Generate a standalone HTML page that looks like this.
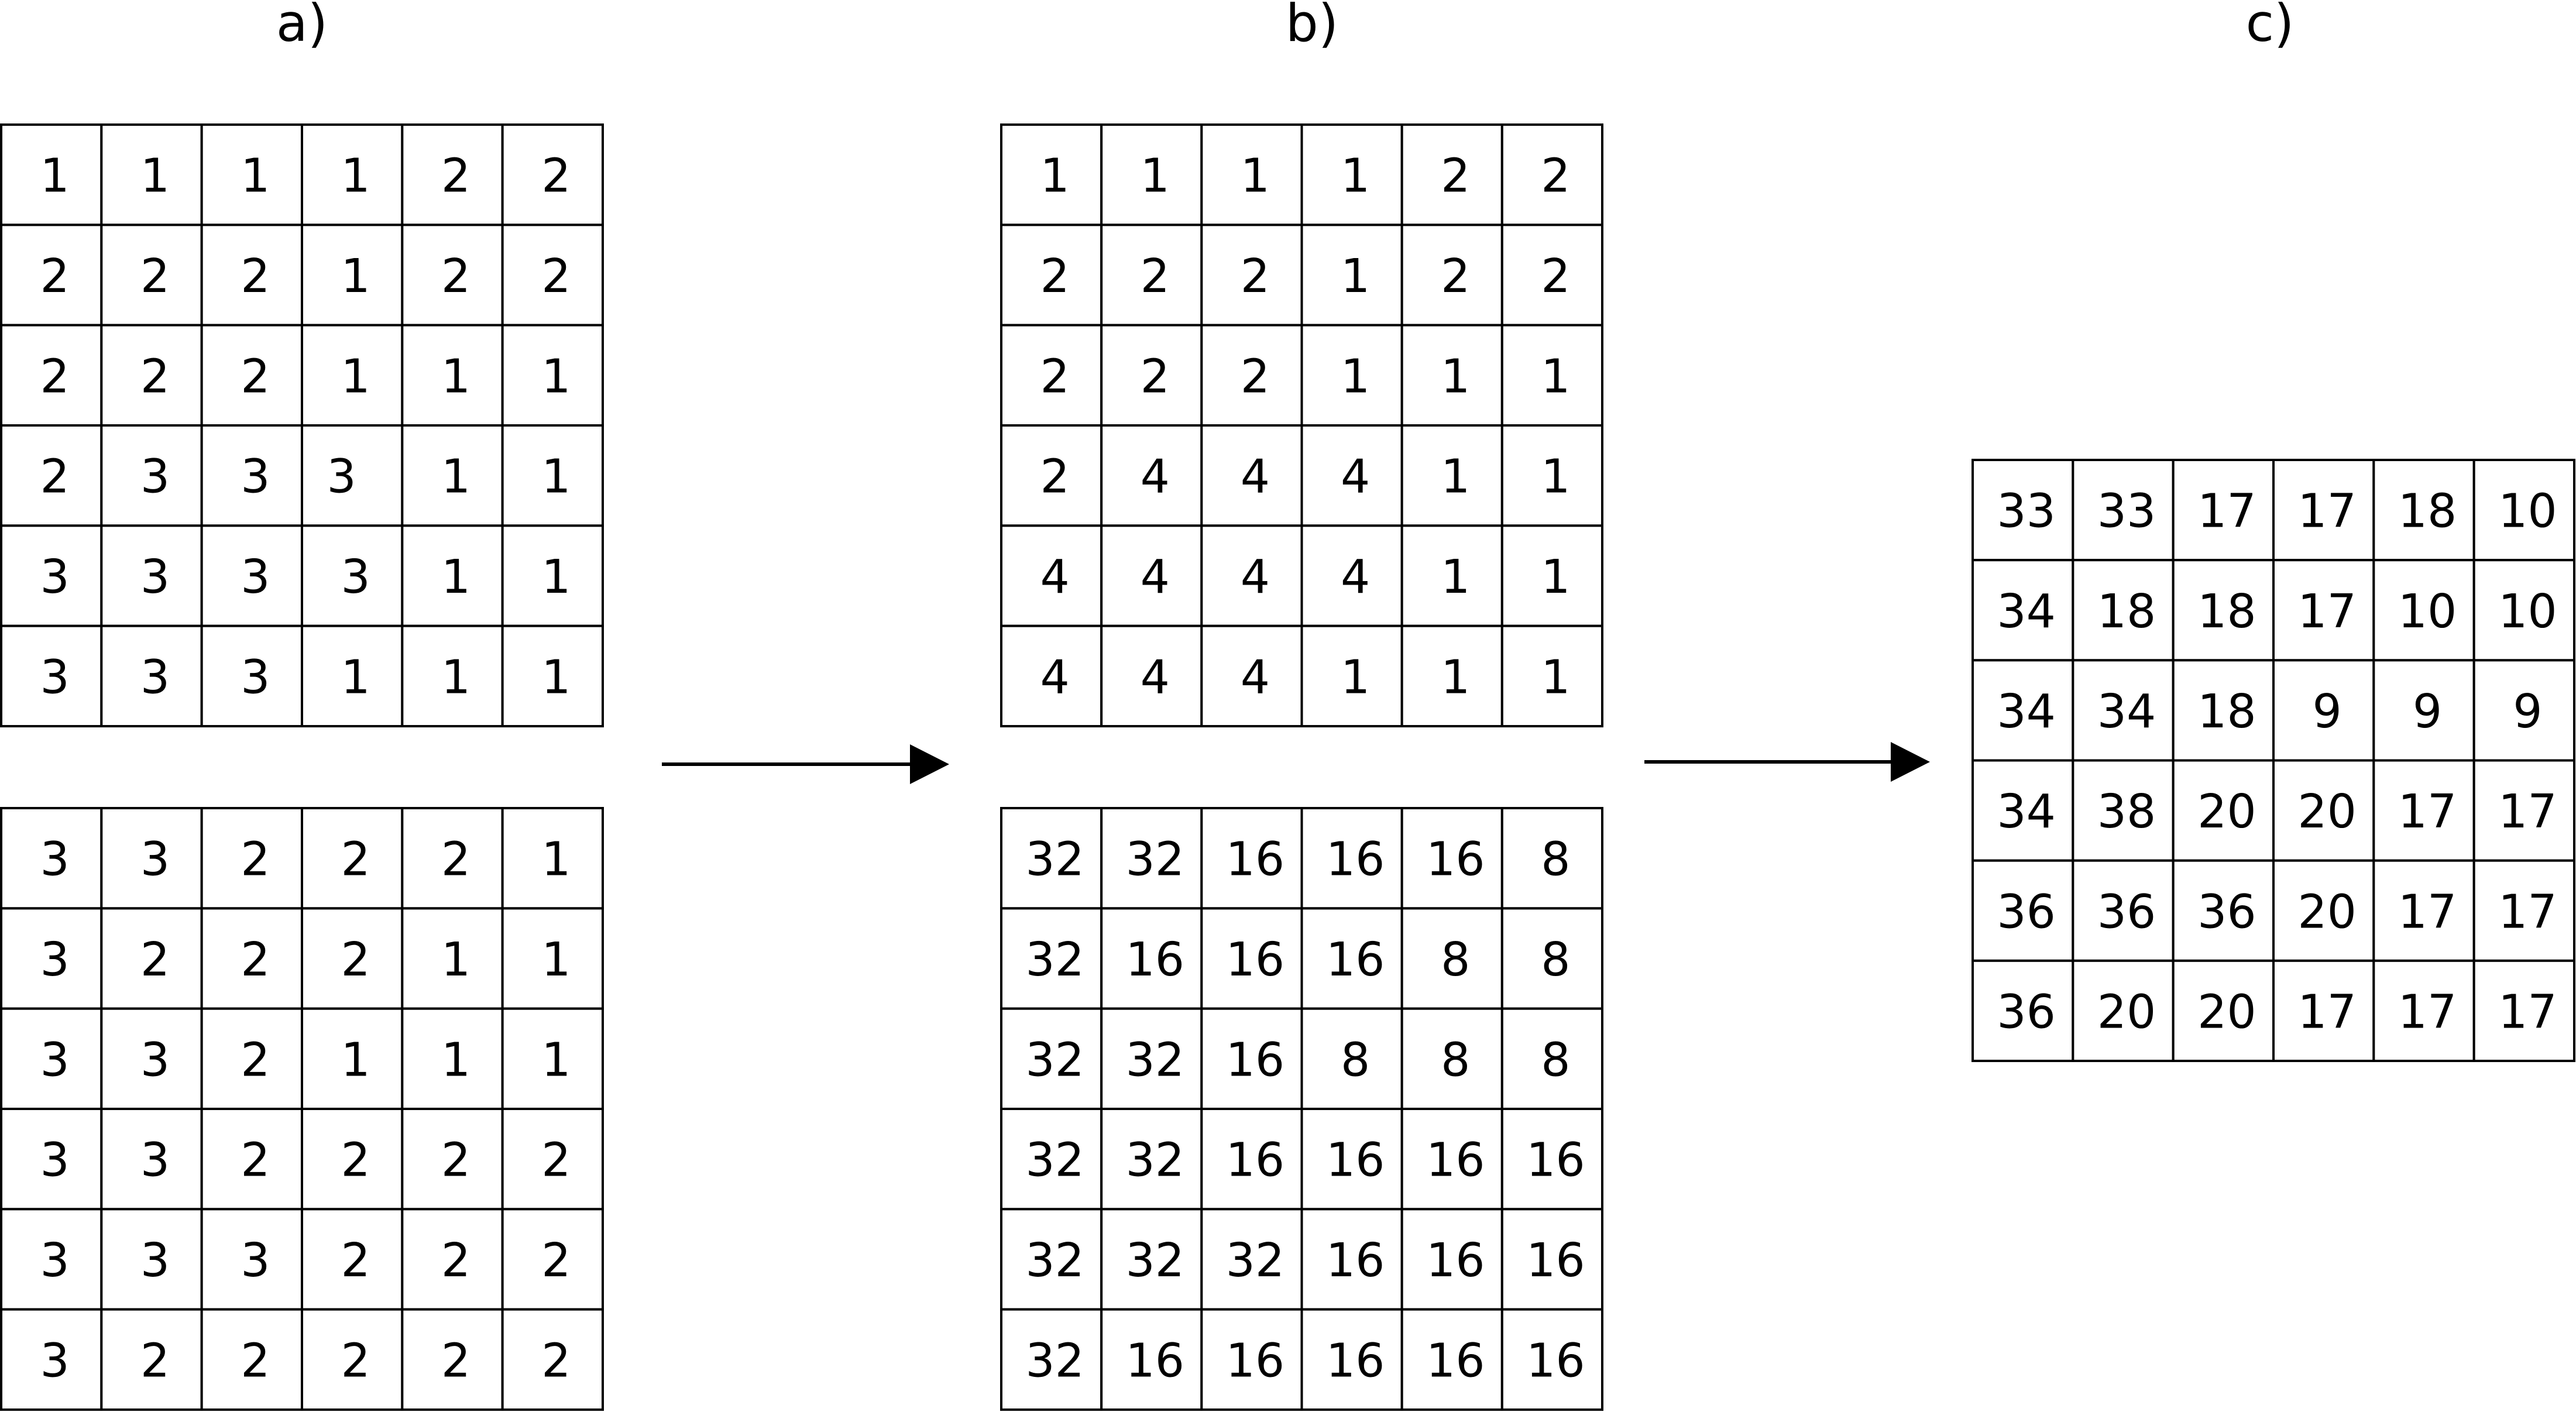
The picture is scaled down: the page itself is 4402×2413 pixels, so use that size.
<!DOCTYPE html>
<html><head><meta charset="utf-8"><style>
html,body{margin:0;padding:0;background:#fff;}
svg{display:block;}
text{font-family:"DejaVu Sans","Liberation Sans",sans-serif;fill:#000;}
</style></head><body>
<svg id="fig" width="4402" height="2413" viewBox="0 0 4402 2413" xmlns="http://www.w3.org/2000/svg">
<text x="516" y="70" font-size="88" text-anchor="middle">a)</text>
<text x="2242" y="70" font-size="88" text-anchor="middle">b)</text>
<text x="3879" y="70" font-size="88" text-anchor="middle">c)</text>
<g>
<line x1="1131" y1="1306" x2="1560" y2="1306" stroke="#000" stroke-width="6"/>
<polygon points="1555,1272 1622,1306 1555,1340" fill="#000"/>
</g>
<g>
<line x1="2810" y1="1302" x2="3236" y2="1302" stroke="#000" stroke-width="6"/>
<polygon points="3231,1268 3298,1302 3231,1336" fill="#000"/>
</g>
</svg>
<script>
const gridATop = [[1,1,1,1,2,2],[2,2,2,1,2,2],[2,2,2,1,1,1],[2,3,3,3,1,1],[3,3,3,3,1,1],[3,3,3,1,1,1]];
const gridABottom = [[3,3,2,2,2,1],[3,2,2,2,1,1],[3,3,2,1,1,1],[3,3,2,2,2,2],[3,3,3,2,2,2],[3,2,2,2,2,2]];
const gridBTop = [[1,1,1,1,2,2],[2,2,2,1,2,2],[2,2,2,1,1,1],[2,4,4,4,1,1],[4,4,4,4,1,1],[4,4,4,1,1,1]];
const gridBBottom = [[32,32,16,16,16,8],[32,16,16,16,8,8],[32,32,16,8,8,8],[32,32,16,16,16,16],[32,32,32,16,16,16],[32,16,16,16,16,16]];
const gridC = [[33,33,17,17,18,10],[34,18,18,17,10,10],[34,34,18,9,9,9],[34,38,20,20,17,17],[36,36,36,20,17,17],[36,20,20,17,17,17]];

const NS = 'http://www.w3.org/2000/svg';
const svg = document.getElementById('fig');
function drawGrid(data, x0, y0, w, h, name, shiftCell) {
  const g = document.createElementNS(NS, 'g');
  
  
  const n = data.length, m = data[0].length;
  const cw = w / m, ch = h / n;
  for (let r = 0; r < n; r++) {
    for (let c = 0; c < m; c++) {
      const rect = document.createElementNS(NS, 'rect');
      rect.setAttribute('x', x0 + c * cw);
      rect.setAttribute('y', y0 + r * ch);
      rect.setAttribute('width', cw);
      rect.setAttribute('height', ch);
      rect.setAttribute('fill', '#fff');
      rect.setAttribute('stroke', '#000');
      rect.setAttribute('stroke-width', '4');
      
      
      g.appendChild(rect);
      let dx = 6;
      if (shiftCell && shiftCell[0] === r && shiftCell[1] === c) dx = -18;
      const t = document.createElementNS(NS, 'text');
      t.setAttribute('x', x0 + (c + 0.5) * cw + dx);
      t.setAttribute('y', y0 + (r + 0.5) * ch + 29);
      t.setAttribute('font-size', '79');
      t.setAttribute('text-anchor', 'middle');
      t.textContent = data[r][c];
      
      
      g.appendChild(t);
    }
  }
  svg.appendChild(g);
}
drawGrid(gridATop, 2, 213, 1028, 1028, 'grid-a-top', [3,3]);
drawGrid(gridABottom, 2, 1381, 1028, 1028, 'grid-a-bottom');
drawGrid(gridBTop, 1711, 213, 1027, 1028, 'grid-b-top');
drawGrid(gridBBottom, 1711, 1381, 1027, 1028, 'grid-b-bottom');
drawGrid(gridC, 3371, 786, 1028, 1027, 'grid-c');
</script>
</body></html>
